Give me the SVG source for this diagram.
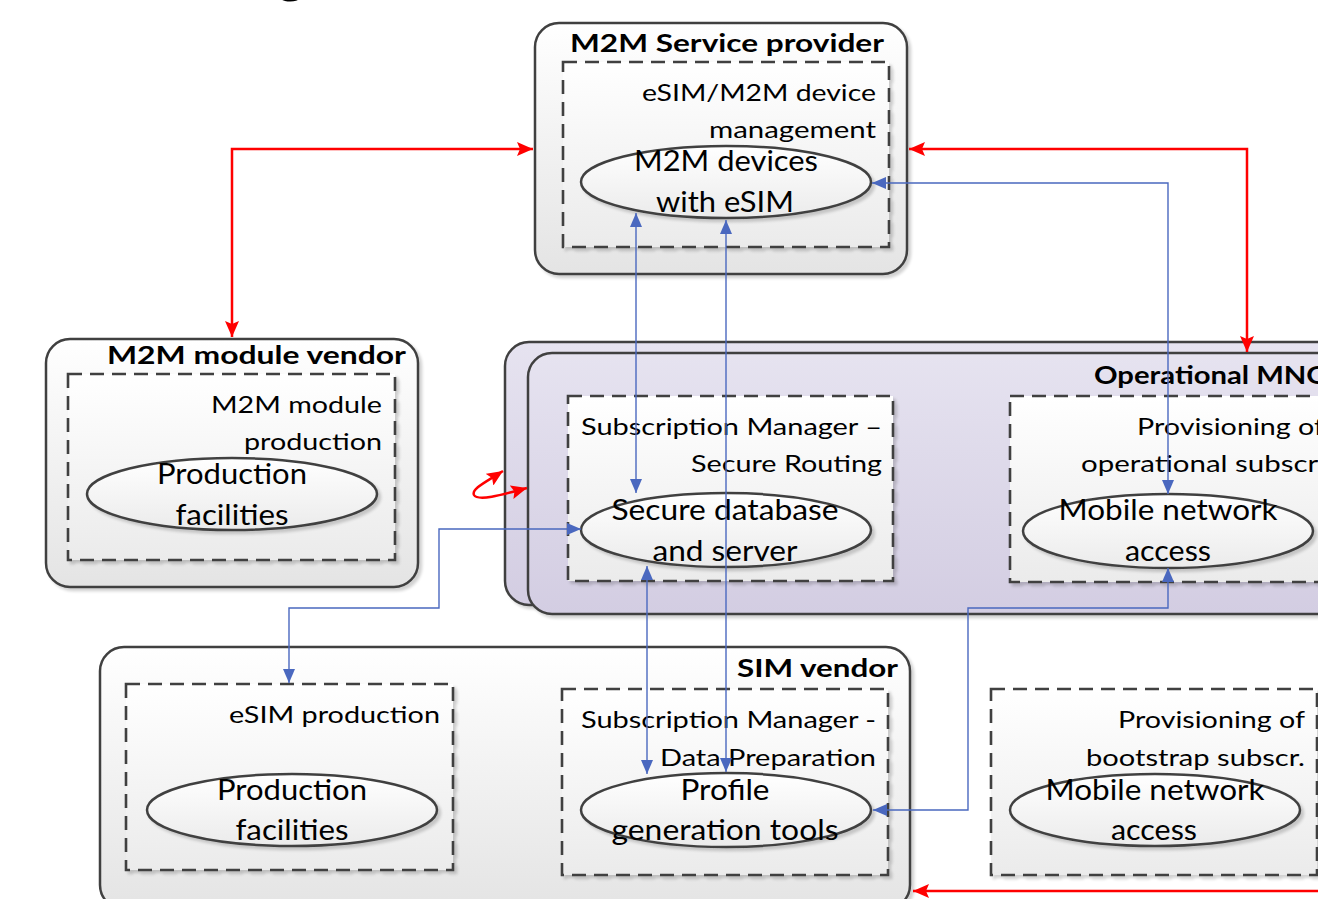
<svg xmlns="http://www.w3.org/2000/svg" width="1318" height="899" viewBox="0 0 1318 899">
  <defs>
    <linearGradient id="gWhite" x1="0" y1="0" x2="0" y2="1">
      <stop offset="0" stop-color="#ffffff"/>
      <stop offset="1" stop-color="#e4e4e4"/>
    </linearGradient>
    <linearGradient id="gInner" x1="0" y1="0" x2="0" y2="1">
      <stop offset="0" stop-color="#ffffff"/>
      <stop offset="1" stop-color="#ebebeb"/>
    </linearGradient>
    <linearGradient id="gPurple" x1="0" y1="0" x2="0" y2="1">
      <stop offset="0" stop-color="#e6e3f0"/>
      <stop offset="1" stop-color="#d3cde2"/>
    </linearGradient>
    <filter id="shadow" x="-5%" y="-5%" width="115%" height="115%">
      <feGaussianBlur in="SourceAlpha" stdDeviation="1.5"/>
      <feOffset dx="3" dy="3" result="b"/>
      <feComponentTransfer><feFuncA type="linear" slope="0.18"/></feComponentTransfer>
      <feMerge><feMergeNode/><feMergeNode in="SourceGraphic"/></feMerge>
    </filter>
    <marker id="arrRed" viewBox="0 0 16 14" markerWidth="16" markerHeight="14" refX="16" refY="7" orient="auto-start-reverse" markerUnits="userSpaceOnUse">
      <path d="M0,0 L16,7 L0,14 L3,7 z" fill="#ff0000"/>
    </marker>
    <marker id="arrBlue" viewBox="0 0 14 12" markerWidth="14" markerHeight="12" refX="14" refY="6" orient="auto-start-reverse" markerUnits="userSpaceOnUse">
      <path d="M0,0 L14,6 L0,12 z" fill="#4a68bf"/>
    </marker>
  </defs>
  <style>
    .box { stroke:#414141; stroke-width:2.5; fill:url(#gWhite); filter:url(#shadow); }
    .mno { stroke:#414141; stroke-width:2.5; fill:url(#gPurple); filter:url(#shadow); }
    .dash { stroke:#414141; stroke-width:2.6; stroke-dasharray:14 8; fill:url(#gInner); filter:url(#shadow); }
    .ell { stroke:#414141; stroke-width:2.5; fill:url(#gInner); filter:url(#shadow); }
    text { font-family: Lato, "Open Sans", sans-serif; fill:#000; }
    .title { font-weight:bold; font-size:25.5px; text-anchor:end; }
    .lbl { font-size:24px; text-anchor:end; }
    .etx { font-size:29.5px; text-anchor:middle; }
    .red { stroke:#ff0000; stroke-width:2.5; fill:none; }
    .blue { stroke:#4a68bf; stroke-width:1.4; fill:none; }
  </style>

  <rect width="1318" height="899" fill="#ffffff"/>

  <!-- heading fragment at the top edge -->
  <text x="291" y="-8" style="font-size:54px;font-weight:bold;text-anchor:middle">g</text>

  <!-- M2M Service provider -->
  <g id="m2m-service-provider">
    <rect class="box" x="535" y="23" width="372" height="251" rx="24"/>
    <text class="title" x="884" y="52" textLength="314" lengthAdjust="spacingAndGlyphs">M2M Service provider</text>
    <rect class="dash" x="563" y="62" width="326" height="185"/>
    <text class="lbl" x="876" y="101" textLength="234" lengthAdjust="spacingAndGlyphs">eSIM/M2M device</text>
    <text class="lbl" x="876" y="138" textLength="167" lengthAdjust="spacingAndGlyphs">management</text>
    <ellipse class="ell" cx="726" cy="182" rx="145" ry="36"/>
    <text class="etx" x="726" y="171" textLength="184" lengthAdjust="spacingAndGlyphs">M2M devices</text>
    <text class="etx" x="725" y="212" textLength="138" lengthAdjust="spacingAndGlyphs">with eSIM</text>
  </g>

  <!-- M2M module vendor -->
  <g id="m2m-module-vendor">
    <rect class="box" x="46" y="339" width="372" height="248" rx="24"/>
    <text class="title" x="406" y="364" textLength="299" lengthAdjust="spacingAndGlyphs">M2M module vendor</text>
    <rect class="dash" x="68" y="374" width="327" height="186"/>
    <text class="lbl" x="382" y="413" textLength="171" lengthAdjust="spacingAndGlyphs">M2M module</text>
    <text class="lbl" x="382" y="450" textLength="138" lengthAdjust="spacingAndGlyphs">production</text>
    <ellipse class="ell" cx="232" cy="494" rx="145" ry="36"/>
    <text class="etx" x="232" y="484" textLength="150" lengthAdjust="spacingAndGlyphs">Production</text>
    <text class="etx" x="232" y="525" textLength="113" lengthAdjust="spacingAndGlyphs">facilities</text>
  </g>

  <!-- Operational MNO -->
  <g id="operational-mno">
    <rect class="mno" x="505" y="342" width="840" height="263" rx="24"/>
    <rect class="mno" x="528" y="353" width="820" height="261" rx="24"/>
    <text x="1094" y="384" style="font-weight:bold;font-size:25.5px" textLength="236" lengthAdjust="spacingAndGlyphs">Operational MNO</text>
  </g>

  <g id="sm-sr">
    <rect class="dash" x="568" y="396" width="325" height="185"/>
    <text class="lbl" x="882" y="435" textLength="301" lengthAdjust="spacingAndGlyphs">Subscription Manager –</text>
    <text class="lbl" x="882" y="472" textLength="191" lengthAdjust="spacingAndGlyphs">Secure Routing</text>
    <ellipse class="ell" cx="726" cy="530" rx="145" ry="37"/>
    <text class="etx" x="725" y="520" textLength="227" lengthAdjust="spacingAndGlyphs">Secure database</text>
    <text class="etx" x="725" y="561" textLength="145" lengthAdjust="spacingAndGlyphs">and server</text>
  </g>

  <g id="provisioning-operational">
    <rect class="dash" x="1010" y="396" width="330" height="186"/>
    <text class="lbl" x="1324" y="435" textLength="187" lengthAdjust="spacingAndGlyphs">Provisioning of</text>
    <text class="lbl" x="1324" y="472" textLength="243" lengthAdjust="spacingAndGlyphs">operational subscr.</text>
    <ellipse class="ell" cx="1168" cy="531" rx="145" ry="37"/>
    <text class="etx" x="1168" y="520" textLength="219" lengthAdjust="spacingAndGlyphs">Mobile network</text>
    <text class="etx" x="1168" y="561" textLength="86" lengthAdjust="spacingAndGlyphs">access</text>
  </g>

  <!-- SIM vendor -->
  <g id="sim-vendor">
    <rect class="box" x="100" y="647" width="810" height="262" rx="24"/>
    <text class="title" x="898" y="677" textLength="161" lengthAdjust="spacingAndGlyphs">SIM vendor</text>
  </g>

  <g id="esim-production">
    <rect class="dash" x="126" y="684" width="327" height="186"/>
    <text class="lbl" x="440" y="723" textLength="211" lengthAdjust="spacingAndGlyphs">eSIM production</text>
    <ellipse class="ell" cx="292" cy="810" rx="145" ry="36"/>
    <text class="etx" x="292" y="800" textLength="150" lengthAdjust="spacingAndGlyphs">Production</text>
    <text class="etx" x="292" y="840" textLength="113" lengthAdjust="spacingAndGlyphs">facilities</text>
  </g>

  <g id="sm-dp">
    <rect class="dash" x="562" y="689" width="326" height="186"/>
    <text class="lbl" x="876" y="728" textLength="295" lengthAdjust="spacingAndGlyphs">Subscription Manager -</text>
    <text class="lbl" x="876" y="766" textLength="216" lengthAdjust="spacingAndGlyphs">Data Preparation</text>
    <ellipse class="ell" cx="726" cy="810" rx="145" ry="37"/>
    <text class="etx" x="725" y="800" textLength="89" lengthAdjust="spacingAndGlyphs">Profile</text>
    <text class="etx" x="725" y="840" textLength="227" lengthAdjust="spacingAndGlyphs">generation tools</text>
  </g>

  <g id="provisioning-bootstrap">
    <rect class="dash" x="991" y="689" width="326" height="186"/>
    <text class="lbl" x="1305" y="728" textLength="187" lengthAdjust="spacingAndGlyphs">Provisioning of</text>
    <text class="lbl" x="1305" y="766" textLength="219" lengthAdjust="spacingAndGlyphs">bootstrap subscr.</text>
    <ellipse class="ell" cx="1155" cy="810" rx="145" ry="36"/>
    <text class="etx" x="1155" y="800" textLength="219" lengthAdjust="spacingAndGlyphs">Mobile network</text>
    <text class="etx" x="1154" y="840" textLength="86" lengthAdjust="spacingAndGlyphs">access</text>
  </g>

  <!-- connectors -->
  <g id="connectors">
    <!-- business relations -->
    <path class="red" d="M533,149 H232 V337" marker-start="url(#arrRed)" marker-end="url(#arrRed)"/>
    <path class="red" d="M909,149 H1247 V352" marker-start="url(#arrRed)" marker-end="url(#arrRed)"/>
    <path class="red" d="M1330,891 H913" marker-end="url(#arrRed)"/>
    <path class="red" d="M527,488 C505,494 478,502 474,495 C471,489 486,482 503,471" marker-start="url(#arrRed)" marker-end="url(#arrRed)"/>

    <!-- data flows -->
    <path class="blue" d="M636,213 V493" marker-start="url(#arrBlue)" marker-end="url(#arrBlue)"/>
    <path class="blue" d="M726,220 V772" marker-start="url(#arrBlue)" marker-end="url(#arrBlue)"/>
    <path class="blue" d="M872,183 H1168 V494" marker-start="url(#arrBlue)" marker-end="url(#arrBlue)"/>
    <path class="blue" d="M581,529 H439 V608 H289 V683" marker-start="url(#arrBlue)" marker-end="url(#arrBlue)"/>
    <path class="blue" d="M647,566 V774" marker-start="url(#arrBlue)" marker-end="url(#arrBlue)"/>
    <path class="blue" d="M1168,568 V608 H968 V810 H873" marker-start="url(#arrBlue)" marker-end="url(#arrBlue)"/>
  </g>
</svg>
